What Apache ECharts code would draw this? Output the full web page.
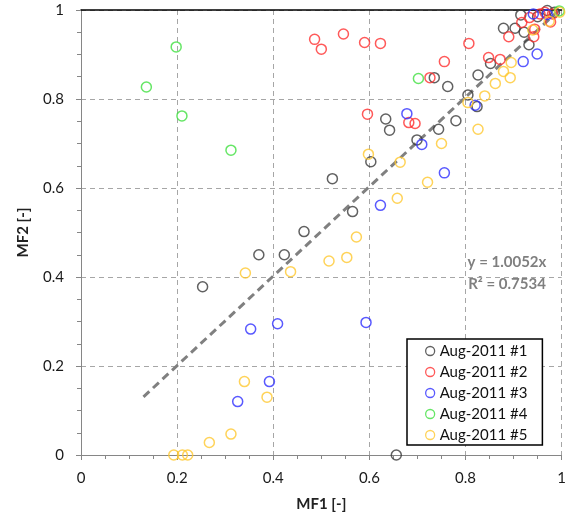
<!DOCTYPE html>
<html>
<head>
<meta charset="utf-8">
<script src="https://cdn.jsdelivr.net/npm/echarts@6/dist/echarts.min.js"></script>
<style>
html,body{margin:0;padding:0;background:#fff;}
#chart{width:569px;height:521px;}
</style>
</head>
<body>
<div id="chart"></div>
<script>
// series names and colours
var seriesNames = ['Aug-2011 #1','Aug-2011 #2','Aug-2011 #3','Aug-2011 #4','Aug-2011 #5'];
var seriesColors = ['#3a3a3a','#ff3030','#3030ff','#40e040','#ffc830'];

// [MF1, MF2]
var aug1 = [[0.253,0.378],[0.370,0.450],[0.423,0.450],[0.464,0.502],[0.523,0.621],[0.565,0.547],
	[0.603,0.659],[0.634,0.755],[0.642,0.730],[0.699,0.708],[0.735,0.848],[0.744,0.732],[0.763,0.828],
	[0.780,0.751],[0.805,0.809],[0.824,0.783],[0.826,0.854],[0.852,0.880],[0.879,0.959],[0.903,0.959],
	[0.915,0.989],[0.922,0.950],[0.932,0.922],[0.970,0.999],[0.950,0.985],[0.985,0.995],[0.656,0.0]];
var aug2 = [[0.486,0.934],[0.500,0.912],[0.546,0.946],[0.590,0.927],[0.623,0.925],[0.596,0.766],
	[0.682,0.747],[0.695,0.745],[0.726,0.848],[0.756,0.884],[0.807,0.925],[0.848,0.893],[0.872,0.889],
	[0.890,0.940],[0.917,0.972],[0.933,0.983],[0.942,0.940],[0.944,0.957],[0.955,0.991],[0.965,0.995],
	[0.977,0.973],[0.981,0.991]];
var aug3 = [[0.326,0.120],[0.353,0.283],[0.392,0.165],[0.409,0.295],[0.593,0.298],[0.623,0.561],
	[0.678,0.767],[0.709,0.698],[0.756,0.634],[0.820,0.786],[0.920,0.884],[0.949,0.901],[0.941,0.991],
	[0.970,0.990]];
var aug4 = [[0.136,0.827],[0.198,0.917],[0.210,0.762],[0.312,0.685],[0.702,0.846],[0.995,0.998]];
var aug5 = [[0.193,0],[0.211,0],[0.222,0],[0.267,0.028],[0.312,0.047],[0.340,0.165],[0.387,0.130],
	[0.342,0.409],[0.436,0.412],[0.516,0.436],[0.553,0.444],[0.573,0.490],[0.598,0.676],[0.658,0.577],
	[0.664,0.658],[0.721,0.613],[0.750,0.700],[0.805,0.792],[0.826,0.732],[0.840,0.807],[0.862,0.835],
	[0.879,0.862],[0.893,0.848],[0.895,0.882],[0.940,0.955],[0.974,0.975],[0.996,0.995]];

// linear trend through origin
var trendSlope = 1.0052;
var trendR2 = 0.7534;
var trendX = [0.13, 0.995];

var axisTicks = [0, 0.2, 0.4, 0.6, 0.8, 1];

var font = 'Lato, "Open Sans", sans-serif';
var allData = [aug1, aug2, aug3, aug4, aug5];

var chart = echarts.init(document.getElementById('chart'), null, {renderer:'canvas'});

function makeAxis(name, gap, labelMargin){
	return {
		type:'value', min:axisTicks[0], max:axisTicks[axisTicks.length-1], interval:axisTicks[1]-axisTicks[0],
		name:name, nameLocation:'middle', nameGap:gap,
		nameTextStyle:{fontFamily:font, fontSize:15, fontWeight:'bold', color:'#222'},
		axisLine:{show:true, onZero:false, lineStyle:{color:'#868686', width:1}},
		axisTick:{show:true, length:5, lineStyle:{color:'#868686'}},
		minorTick:{show:true, splitNumber:4, length:4, lineStyle:{color:'#868686'}},
		splitLine:{show:true, lineStyle:{color:'#a6a6a6', width:1, type:[5,4]}},
		axisLabel:{fontFamily:font, fontSize:15, color:'#1a1a1a', margin:labelMargin,
			formatter:function(v){ return String(+v.toFixed(1)); }}
	};
}

var series = [];
//趋势线
series.push({
	name:'trend', type:'line', symbol:'none', silent:true, z:1,
	lineStyle:{color:'#808080', width:3, type:[8,5]},
	data: trendX.map(function(x){ return [x, trendSlope*x]; })
});
allData.forEach(function(d, i){
	series.push({
		name:seriesNames[i], type:'scatter', symbol:'circle', symbolSize:10, clip:false, z:2,
		itemStyle:{color:'transparent', borderColor:seriesColors[i], borderWidth:1.5},
		data:d
	});
});

var legendData = seriesNames.map(function(n, i){
	return {name:n, itemStyle:{color:'transparent', borderColor:seriesColors[i], borderWidth:1.3}};
});

var option = {
	animation:false,
	grid:{left:81, right:2, top:10, bottom:66, containLabel:false},
	xAxis:[
		makeAxis('MF1 [-]', 42, 16),
		//上边框
		{type:'value', position:'top', min:0, max:1,
			axisLine:{show:true, onZero:false, lineStyle:{color:'#000', width:1.5}},
			axisTick:{show:false}, axisLabel:{show:false}, splitLine:{show:false}}
	],
	yAxis: makeAxis('MF2 [-]', 50, 17),
	legend:{
		data:legendData, orient:'vertical', left:407, top:339,
		backgroundColor:'#fff', borderColor:'#000', borderWidth:1.5,
		padding:[4, 15, 2, 18], itemGap:5, itemWidth:9, itemHeight:9,
		textStyle:{fontFamily:font, fontSize:15, lineHeight:16, color:'#111'},
		icon:'circle', selectedMode:false
	},
	graphic:[
		{type:'text', x:507, y:262, style:{text:'y = ' + trendSlope.toFixed(4) + 'x', fill:'#7f7f7f',
			font:'bold 15px ' + font, textAlign:'center', textVerticalAlign:'middle'}},
		{type:'text', x:507, y:284, style:{text:'R\u00b2 = ' + trendR2.toFixed(4), fill:'#7f7f7f',
			font:'bold 15px ' + font, textAlign:'center', textVerticalAlign:'middle'}}
	],
	series:series
};
chart.setOption(option);
</script>
</body>
</html>
